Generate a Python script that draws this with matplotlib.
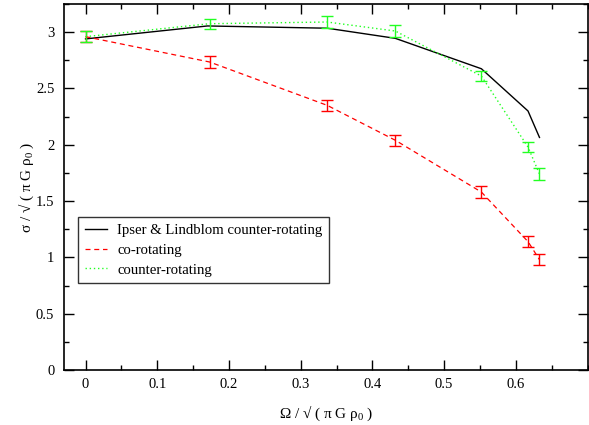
import matplotlib
matplotlib.use("Agg")
import matplotlib.pyplot as plt
from matplotlib.ticker import MultipleLocator
from matplotlib.lines import Line2D

plt.rcParams['font.family'] = ['Liberation Serif', 'DejaVu Serif']
plt.rcParams['mathtext.fontset'] = 'custom'
plt.rcParams['mathtext.rm'] = 'Liberation Serif'
plt.rcParams['mathtext.it'] = 'Liberation Serif:italic'

# Ipser & Lindblom counter-rotating curve
il_omega = [0.0, 0.17, 0.337, 0.432, 0.552, 0.617, 0.633]
il_sigma = [2.94, 3.055, 3.035, 2.945, 2.675, 2.30, 2.065]

# simulation points (shared rotation rates)
omega = [0.0, 0.173, 0.337, 0.432, 0.552, 0.617, 0.633]
co_sigma = [2.96, 2.735, 2.35, 2.04, 1.58, 1.14, 0.98]
co_err = [0.05, 0.05, 0.05, 0.05, 0.05, 0.05, 0.05]
counter_sigma = [2.96, 3.075, 3.09, 3.01, 2.61, 1.98, 1.74]
counter_err = [0.05, 0.045, 0.05, 0.05, 0.047, 0.048, 0.05]

red = '#ff0000'
green = '#22ff22'
co_ls = (0, (4, 3))
counter_ls = (0, (1, 2))

fig = plt.figure(figsize=(5.89, 4.25), dpi=100)
ax = fig.add_axes([0.1087, 0.1294, 0.9975 - 0.1087, 0.9906 - 0.1294])

ax.plot(il_omega, il_sigma, color='black', lw=1.0)
ax.errorbar(omega, co_sigma, yerr=co_err, color=red, lw=0.9,
            ls=co_ls, elinewidth=1.0, capsize=4.5, capthick=1.0)
ax.errorbar(omega, counter_sigma, yerr=counter_err, color=green, lw=1.0,
            ls=counter_ls, elinewidth=1.0, capsize=4.5, capthick=1.0)

ax.set_xlim(-0.03, 0.7)
ax.set_ylim(0, 3.25)
ax.xaxis.set_minor_locator(MultipleLocator(0.05))
ax.yaxis.set_minor_locator(MultipleLocator(0.25))
ax.set_xticks([0, 0.1, 0.2, 0.3, 0.4, 0.5, 0.6])
ax.set_xticklabels(['0', '0.1', '0.2', '0.3', '0.4', '0.5', '0.6'])
ax.set_yticks([0, 0.5, 1, 1.5, 2, 2.5, 3])
ax.set_yticklabels(['0', '0.5', '1', '1.5', '2', '2.5', '3'])
ax.tick_params(which='both', direction='in', top=True, right=True,
               labelsize=10.5, width=1.0)
ax.tick_params(which='major', length=7.5)
ax.tick_params(axis='x', which='major', pad=6)
ax.tick_params(axis='y', which='major', pad=7)
ax.tick_params(which='minor', length=3.8)
for s in ax.spines.values():
    s.set_linewidth(1.2)

ax.set_xlabel(r'Ω / √ ( π G ρ$_0$ )', fontsize=11, labelpad=9)
ax.set_ylabel(r'σ / √ ( π G ρ$_0$ )', fontsize=11, labelpad=0)

handles = [
    Line2D([], [], color='black', lw=1.0),
    Line2D([], [], color=red, lw=0.9, ls=co_ls),
    Line2D([], [], color=green, lw=1.0, ls=counter_ls),
]
labels = ['Ipser & Lindblom counter-rotating', 'co-rotating', 'counter-rotating']
leg = ax.legend(handles, labels, loc='lower left',
                bbox_to_anchor=(0.022, 0.229), fontsize=10.6,
                frameon=True, fancybox=False, edgecolor='black',
                handlelength=1.5, borderpad=0.45, labelspacing=0.45,
                handletextpad=0.7, borderaxespad=0.2)
leg.get_frame().set_linewidth(1.0)

fig.savefig('out.png', dpi=100)
